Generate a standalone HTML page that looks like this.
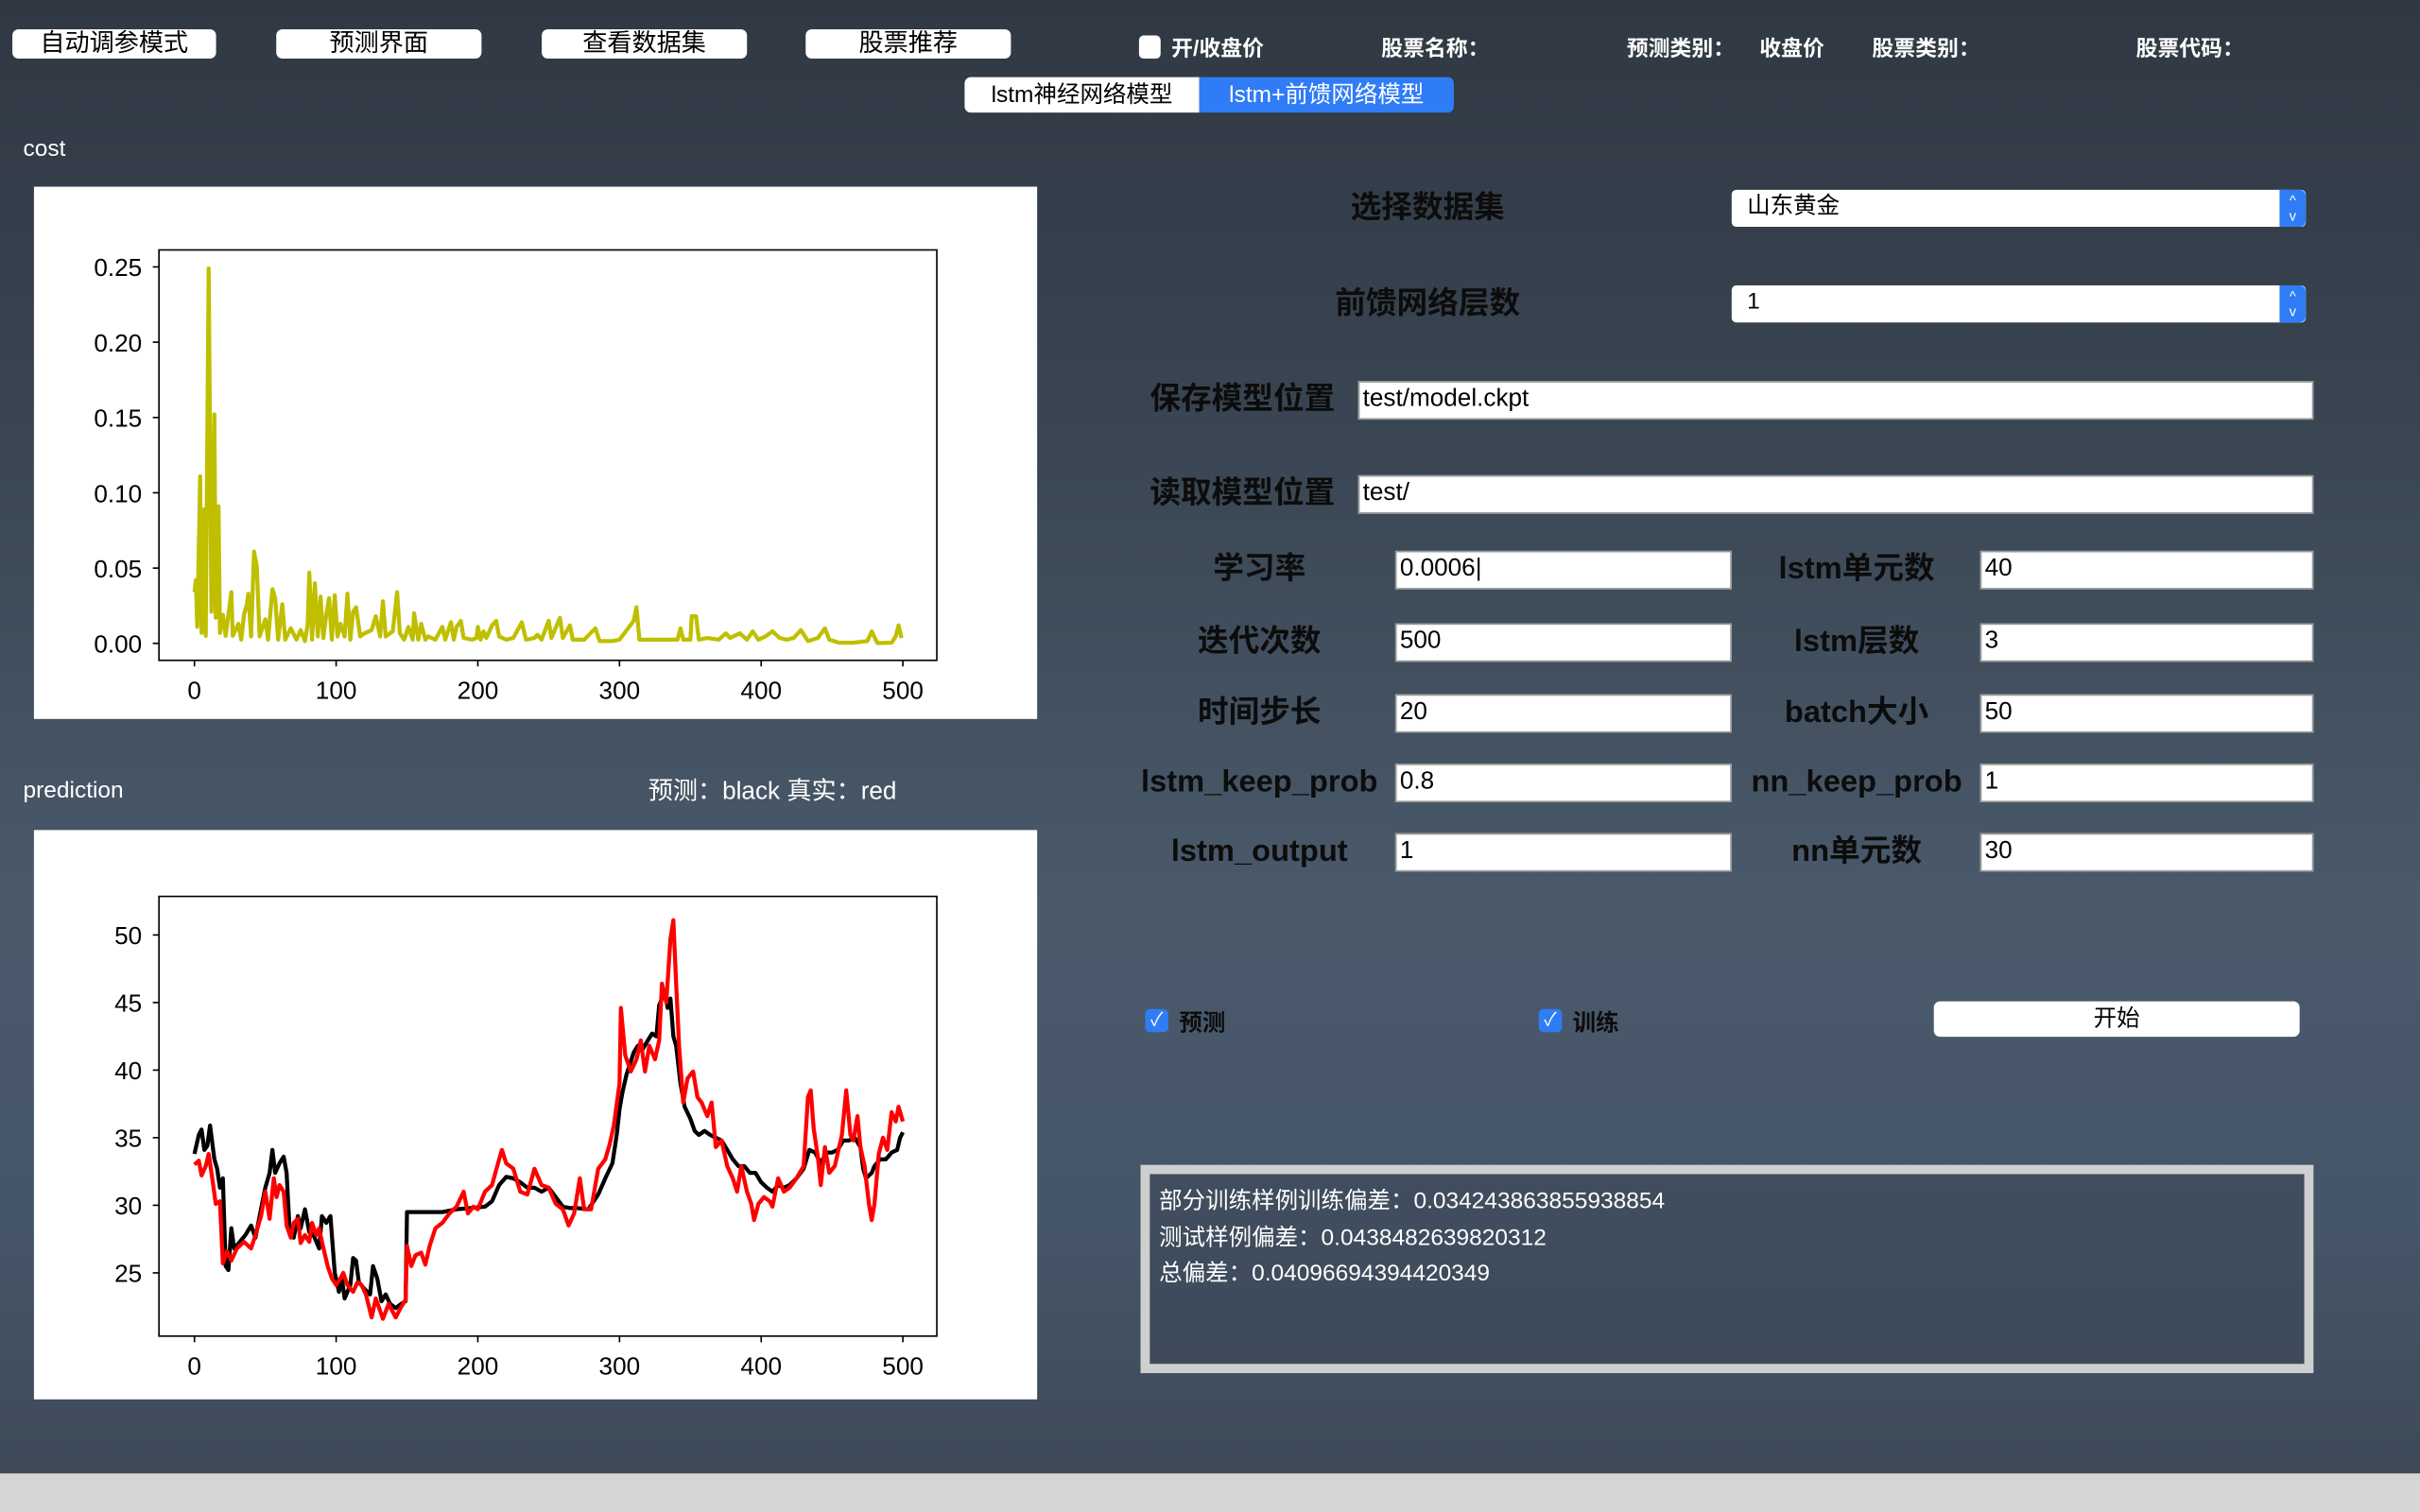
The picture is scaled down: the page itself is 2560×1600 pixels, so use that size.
<!DOCTYPE html>
<html><head><meta charset="utf-8"><style>
html,body{margin:0;padding:0;width:2560px;height:1600px;overflow:hidden;background:#3a4552}
#root{position:absolute;left:0;top:0;width:1568px;height:980px;transform:scale(1.632653);transform-origin:0 0;
background:linear-gradient(180deg,#303843 0%,#3a4653 30%,#4a5a6b 60%,#46566a 80%,#3e4a58 97%);
font-family:"Liberation Sans","Noto Sans CJK SC",sans-serif;overflow:hidden}
.abs{position:absolute}
.btn{position:absolute;background:#fff;border-radius:4px;color:#000;font-size:16px;text-align:center;line-height:19px;height:19px}
.wt{position:absolute;color:#fff;font-size:14px;font-weight:bold;line-height:16px}
.lab{position:absolute;color:#0c0c0c;font-size:20px;font-weight:bold;line-height:24px;white-space:nowrap;transform:translateX(-50%)}
.inp{position:absolute;background:#fff;border:1px solid #999;box-sizing:border-box;font-size:16px;line-height:22px;padding-left:2px;color:#000}
.panel{position:absolute;background:#fff}
svg text{font-family:"Liberation Sans","DejaVu Sans",sans-serif}
</style></head><body>
<div id="root">
<div class="btn" style="left:8px;top:19px;width:132px">自动调参模式</div>
<div class="btn" style="left:179px;top:19px;width:133px">预测界面</div>
<div class="btn" style="left:351px;top:19px;width:133px">查看数据集</div>
<div class="btn" style="left:522px;top:19px;width:133px">股票推荐</div>
<div class="abs" style="left:738px;top:23px;width:14px;height:15px;background:#fff;border-radius:3px"></div>
<div class="wt" style="left:759px;top:23px">开/收盘价</div>
<div class="wt" style="left:895px;top:23px">股票名称：</div>
<div class="wt" style="left:1054px;top:23px">预测类别：</div>
<div class="wt" style="left:1140px;top:23px">收盘价</div>
<div class="wt" style="left:1213px;top:23px">股票类别：</div>
<div class="wt" style="left:1384px;top:23px">股票代码：</div>
<div class="abs" style="left:625px;top:50px;width:152px;height:23px;background:#fff;border-radius:4px 0 0 4px;font-size:15px;line-height:23px;text-align:center">lstm神经网络模型</div>
<div class="abs" style="left:777px;top:50px;width:165px;height:23px;background:#2f7cf6;color:#fff;border-radius:0 4px 4px 0;font-size:15px;line-height:23px;text-align:center">lstm+前馈网络模型</div>
<div class="abs" style="left:15px;top:88px;color:#fff;font-size:15px">cost</div>
<div class="abs" style="left:15px;top:504px;color:#fff;font-size:15px">prediction</div>
<div class="abs" style="left:420px;top:499px;color:#fff;font-size:16px">预测：black 真实：red</div>

<div class="panel" style="left:22px;top:121px;width:650px;height:345px">
<svg id="costsvg" width="650" height="345"></svg></div>
<div class="panel" style="left:22px;top:538px;width:650px;height:369px">
<svg id="predsvg" width="650" height="369"></svg></div>

<div class="lab" style="left:925px;top:123px">选择数据集</div>
<div class="inp" style="left:1122px;top:123px;width:372px;height:24px;border:none;border-radius:3px;padding-left:10px;font-size:15px">山东黄金</div>
<div class="abs" style="left:1477px;top:123px;width:17px;height:24px;background:#2f7cf6;border-radius:0 4px 4px 0;color:#fff;font-size:9px;line-height:10px;text-align:center;padding-top:2px;box-sizing:border-box">^<br>v</div>
<div class="lab" style="left:925px;top:185px">前馈网络层数</div>
<div class="inp" style="left:1122px;top:185px;width:372px;height:24px;border:none;border-radius:3px;padding-left:10px;font-size:15px">1</div>
<div class="abs" style="left:1477px;top:185px;width:17px;height:24px;background:#2f7cf6;border-radius:0 4px 4px 0;color:#fff;font-size:9px;line-height:10px;text-align:center;padding-top:2px;box-sizing:border-box">^<br>v</div>

<div class="lab" style="left:805px;top:247px">保存模型位置</div>
<div class="inp" style="left:880px;top:247px;width:619px;height:25px">test/model.ckpt</div>
<div class="lab" style="left:805px;top:308px">读取模型位置</div>
<div class="inp" style="left:880px;top:308px;width:619px;height:25px">test/</div>

<div class="lab" style="left:816px;top:357px">学习率</div>
<div class="inp" style="left:904px;top:357px;width:218px;height:25px">0.0006|</div>
<div class="lab" style="left:1203px;top:357px">lstm单元数</div>
<div class="inp" style="left:1283px;top:357px;width:216px;height:25px">40</div>
<div class="lab" style="left:816px;top:404px">迭代次数</div>
<div class="inp" style="left:904px;top:404px;width:218px;height:25px">500</div>
<div class="lab" style="left:1203px;top:404px">lstm层数</div>
<div class="inp" style="left:1283px;top:404px;width:216px;height:25px">3</div>
<div class="lab" style="left:816px;top:450px">时间步长</div>
<div class="inp" style="left:904px;top:450px;width:218px;height:25px">20</div>
<div class="lab" style="left:1203px;top:450px">batch大小</div>
<div class="inp" style="left:1283px;top:450px;width:216px;height:25px">50</div>
<div class="lab" style="left:816px;top:495px">lstm_keep_prob</div>
<div class="inp" style="left:904px;top:495px;width:218px;height:25px">0.8</div>
<div class="lab" style="left:1203px;top:495px">nn_keep_prob</div>
<div class="inp" style="left:1283px;top:495px;width:216px;height:25px">1</div>
<div class="lab" style="left:816px;top:540px">lstm_output</div>
<div class="inp" style="left:904px;top:540px;width:218px;height:25px">1</div>
<div class="lab" style="left:1203px;top:540px">nn单元数</div>
<div class="inp" style="left:1283px;top:540px;width:216px;height:25px">30</div>

<div class="abs" style="left:742px;top:654px;width:15px;height:15px;background:#2f7cf6;border-radius:3px;color:#fff;font-size:12px;line-height:15px;text-align:center">✓</div>
<div class="abs" style="left:764px;top:652px;color:#0c0c0c;font-size:15px;font-weight:bold">预测</div>
<div class="abs" style="left:997px;top:654px;width:15px;height:15px;background:#2f7cf6;border-radius:3px;color:#fff;font-size:12px;line-height:15px;text-align:center">✓</div>
<div class="abs" style="left:1019px;top:652px;color:#0c0c0c;font-size:15px;font-weight:bold">训练</div>
<div class="btn" style="left:1253px;top:649px;width:237px;height:23px;line-height:23px;font-size:15px">开始</div>

<div class="abs" style="left:739px;top:755px;width:760px;height:135px;border:6px solid #cfcfcf;box-sizing:border-box;background:rgba(60,72,86,0.6);color:#fff;font-size:15px;line-height:23.5px;padding:6px 0 0 6px">
<div>部分训练样例训练偏差：0.034243863855938854</div>
<div>测试样例偏差：0.0438482639820312</div>
<div>总偏差：0.04096694394420349</div>
</div>
<div class="abs" style="left:0;top:955px;width:1568px;height:25px;background:#d6d6d6"></div>
</div>
<script>
const costX=[0,1,2,4,5,7,8,10,12,14,15,17,18,20,22,26,27,31,33,35,37,38,40,42,44,46,50,52,55,57,59,62,64,68,72,75,78,80,81,83,85,87,89,91,93,95,97,99,101,103,106,108,110,112,114,117,120,125,128,131,133,135,140,143,145,148,151,154,155,158,160,163,165,170,175,177,181,183,185,188,190,196,199,200,202,204,206,210,213,215,220,225,231,234,240,242,245,250,252,258,260,265,267,272,275,283,286,295,300,310,312,314,318,325,333,341,343,345,350,351,354,356,362,370,375,378,385,390,394,398,403,408,413,418,423,428,433,440,445,448,455,465,475,478,482,492,495,497,499];
const costY=[0.034,0.042,0.011,0.111,0.007,0.089,0.005,0.249,0.021,0.152,0.017,0.091,0.007,0.019,0.005,0.034,0.005,0.013,0.0025,0.019,0.026,0.033,0.0046,0.061,0.051,0.0046,0.016,0.0025,0.036,0.030,0.0025,0.026,0.0025,0.010,0.0025,0.0088,0.0015,0.013,0.047,0.0025,0.040,0.0046,0.031,0.0036,0.019,0.030,0.0025,0.032,0.0046,0.013,0.0046,0.033,0.0025,0.021,0.024,0.0046,0.0067,0.0088,0.018,0.0046,0.028,0.0046,0.008,0.034,0.0067,0.0025,0.011,0.0025,0.020,0.0025,0.013,0.0025,0.0046,0.0025,0.011,0.0025,0.014,0.0025,0.011,0.015,0.0036,0.0025,0.0036,0.011,0.0025,0.008,0.0036,0.012,0.015,0.0046,0.0025,0.0036,0.014,0.0025,0.0036,0.0057,0.0025,0.015,0.0036,0.017,0.0036,0.012,0.0025,0.0025,0.0025,0.010,0.0015,0.0015,0.0025,0.015,0.024,0.0025,0.0025,0.0025,0.0025,0.0025,0.010,0.0025,0.0025,0.018,0.018,0.0025,0.0036,0.0025,0.0067,0.0036,0.0067,0.0025,0.008,0.0025,0.0046,0.008,0.0036,0.0025,0.0036,0.0088,0.0015,0.0036,0.010,0.0025,0.0004,0.0004,0.0015,0.008,0.0002,0.0004,0.0046,0.012,0.0036];
const costYTicks=[0,0.05,0.10,0.15,0.20,0.25];
const costYLabels=["0.00","0.05","0.10","0.15","0.20","0.25"];
const xTicks=[0,100,200,300,400,500];

const predX=[0,3,5,7,9,11,14,16,18,20,22,24,26,28,32,36,40,43,47,50,53,55,57,60,63,65,67,70,73,75,78,81,84,88,90,93,96,99,102,104,106,110,112,114,116,120,124,126,129,132,135,138,142,146,149,150,160,175,185,195,205,210,215,220,225,230,235,240,245,250,255,260,265,270,278,285,290,295,298,300,302,305,310,313,316,320,323,326,328,330,332,334,336,338,340,343,346,350,353,356,360,364,368,372,376,380,384,388,392,396,400,404,408,412,416,420,425,430,434,438,442,446,450,454,458,462,466,470,472,474,478,480,484,488,492,496,498,500];
const predBlack=[33.8,35.2,35.6,34.1,34.4,35.9,33.4,32.7,31.3,32.0,25.5,25.2,28.3,26.8,27.3,27.8,28.5,27.6,29.7,31.3,32.4,34.1,32.4,33.1,33.6,32.4,28.5,27.6,29.2,28.3,29.7,28.0,27.8,26.8,29.2,28.7,29.2,25.0,23.6,24.6,23.1,24.1,26.1,25.9,24.3,23.8,23.4,25.5,24.6,22.9,23.4,22.7,22.4,22.7,22.9,29.5,29.5,29.5,29.7,29.8,29.9,30.3,31.5,32.1,32.0,31.7,31.3,31.3,31.0,31.3,30.6,29.9,29.8,29.8,29.7,30.8,32.0,33.1,35.2,37.1,38.3,39.7,41.3,41.8,41.5,42.2,42.7,42.5,44.8,45.3,45.7,44.6,45.3,42.5,41.8,39.0,37.3,36.4,35.5,35.2,35.5,35.2,35.0,34.8,34.1,33.4,32.9,32.9,32.4,32.4,31.7,31.3,31.0,31.5,31.3,31.5,32.0,32.7,34.1,33.9,33.1,33.9,33.9,34.1,34.8,34.8,35.0,34.3,32.7,32.0,32.4,32.9,33.4,33.4,33.9,34.1,35.0,35.4];
const trueX=[0,3,5,8,10,13,15,18,20,23,26,30,35,40,43,47,50,53,56,58,60,63,65,68,70,73,75,78,81,83,86,88,90,94,97,100,103,105,108,112,115,118,121,125,128,133,137,142,146,149,150,153,156,160,163,166,170,175,180,185,190,193,197,200,205,210,215,217,220,225,230,235,240,245,250,255,260,264,268,272,275,280,285,290,293,296,300,301,304,308,312,315,318,321,325,328,330,333,336,338,340,342,345,348,352,355,358,362,365,368,372,376,380,383,386,390,393,395,398,402,406,408,412,416,420,425,430,433,435,437,440,442,445,448,452,457,460,463,465,468,470,473,476,478,480,483,486,489,492,495,497,500];
const trueY=[33.0,33.3,32.2,32.9,33.8,31.7,30.1,30.3,25.7,26.6,25.9,26.8,27.3,26.8,27.8,29.2,31.0,29.0,32.0,30.6,31.5,31.0,28.5,27.6,28.7,29.0,27.2,27.8,27.3,28.7,27.8,28.3,27.3,25.5,24.6,24.1,24.6,25.0,24.1,23.6,24.3,24.1,23.4,21.7,23.1,21.6,22.7,21.7,22.5,23.0,27.0,25.5,26.3,26.5,25.6,27.0,28.3,28.7,29.4,29.9,31.0,29.4,29.9,29.7,31.0,31.5,33.4,34.1,33.1,32.7,31.0,30.8,32.7,31.5,31.3,30.1,29.7,28.5,29.4,32.0,29.7,29.7,32.7,33.4,34.5,35.9,39.0,44.6,41.1,39.9,40.8,42.2,39.9,41.8,40.8,42.2,46.4,45.0,49.7,51.1,46.4,41.8,37.6,39.4,39.9,38.0,37.6,36.6,37.6,34.3,34.8,32.9,32.0,31.0,32.9,31.0,30.1,28.9,30.1,30.6,30.3,29.9,32.0,31.0,31.3,32.0,32.9,38.0,38.5,35.7,33.6,31.5,34.3,32.4,32.9,35.2,38.5,35.2,34.8,36.6,34.3,32.9,30.1,28.9,30.1,33.8,35.0,34.1,36.9,36.2,37.3,36.2];
const predYTicks=[25,30,35,40,45,50];

const NS="http://www.w3.org/2000/svg";
function mk(parent,tag,attrs){const e=document.createElementNS(NS,tag);for(const k in attrs)e.setAttribute(k,attrs[k]);parent.appendChild(e);return e;}
function drawChart(svg,box,xDom,yDom,yTicks,yLabels,series){
  const sx=v=>box.x0+(v-xDom[0])/(xDom[1]-xDom[0])*(box.x1-box.x0);
  const sy=v=>box.y0+(v-yDom[0])/(yDom[1]-yDom[0])*(box.y1-box.y0);
  const frame=mk(svg,'rect',{x:box.l,y:box.t,width:box.r-box.l,height:box.b-box.t,fill:'none',stroke:'#000','stroke-width':1});
  
  
  yTicks.forEach((t,i)=>{
    const y=sy(t);
    const tk=mk(svg,'line',{x1:box.l-4,x2:box.l,y1:y,y2:y,stroke:'#000'});
    
    
    const tx=mk(svg,'text',{x:box.l-11,y:y+6,'text-anchor':'end','font-size':16,fill:'#000'});
    tx.textContent=yLabels[i];
    
    
  });
  xTicks.forEach(t=>{
    const x=sx(t);
    const tk=mk(svg,'line',{x1:x,x2:x,y1:box.b,y2:box.b+4,stroke:'#000'});
    
    
    const tx=mk(svg,'text',{x:x,y:box.b+25,'text-anchor':'middle','font-size':16,fill:'#000'});
    tx.textContent=String(t);
    
    
  });
  series.forEach(s=>{
    const pts=s.xs.map((x,i)=>sx(x).toFixed(1)+','+sy(s.ys[i]).toFixed(1)).join(' ');
    const pl=mk(svg,'polyline',{points:pts,fill:'none',stroke:s.color,'stroke-width':2.6,'stroke-linejoin':'round'});
    
    
  });
}
drawChart(document.getElementById('costsvg'),{l:81,r:585,t:41,b:307,x0:104,x1:563,y0:296,y1:52},[0,500],[0,0.25],costYTicks,costYLabels,
  [{xs:costX,ys:costY,color:'#bfbf00',name:'cost-line'}]);
drawChart(document.getElementById('predsvg'),{l:81,r:585,t:43,b:328,x0:104,x1:563,y0:287,y1:68},[0,500],[25,50],predYTicks,predYTicks.map(String),
  [{xs:predX,ys:predBlack,color:'#000',name:'predicted-line'},{xs:trueX,ys:trueY,color:'#ff0000',name:'actual-line'}]);
</script>
</body></html>
